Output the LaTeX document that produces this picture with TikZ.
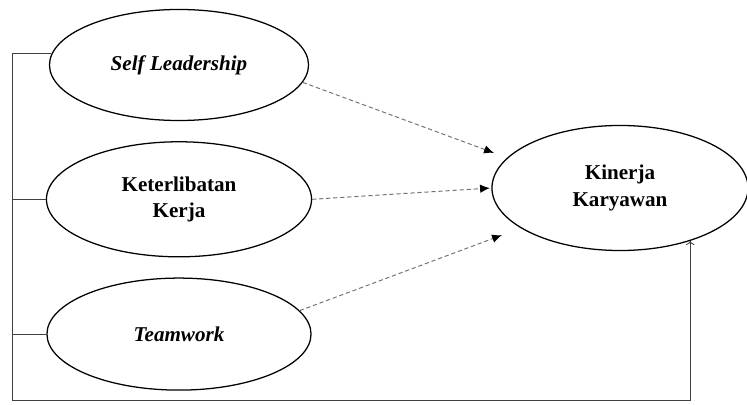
\documentclass[tikz,border=0pt]{standalone}
\usepackage{fontspec}
\setmainfont{Liberation Serif}
\usetikzlibrary{shapes.geometric,positioning,arrows.meta}

\begin{document}
\begin{tikzpicture}
    [x=0.025cm, y=-0.025cm, node distance=0.5cm,
    var/.style={ellipse, draw, line width=0.9pt, inner sep=0pt,
      minimum width=6.55cm, minimum height=2.8cm, align=center,
      font=\fontsize{15}{19}\selectfont\bfseries},
    path/.style={densely dashed, black!55, line width=0.7pt,
      -{Latex[black,length=7pt,width=6pt]}},
    link/.style={line width=0.6pt, black!75}]
  \useasboundingbox (0,0) rectangle (747,405);

  \node [var, minimum width=6.475cm, minimum height=2.775cm] (sl) at (179,65) {\textit{Self Leadership}};
  \node [var, minimum width=6.625cm, minimum height=2.875cm] (ke) [below=of sl] {Keterlibatan\\Kerja};
  \node [var, minimum width=6.6cm] (tw) [below=of ke] {\textit{Teamwork}};
  \node [var, minimum width=6.4cm, minimum height=3.125cm] (kk) at (620,188) {Kinerja\\Karyawan};
  \coordinate (corner) at (12,400);

  \draw [link] (sl.175) -| (corner);
  \draw [link] (ke.west) -- (ke.west -| corner);
  \draw [link] (tw.west) -- (tw.west -| corner);
  \draw [link, ->] (corner) -| (kk.-37);

  \draw [path, shorten >=0.35cm] (sl.-8) -- (kk.165);
  \draw [path, shorten >=1pt] (ke.east) -- (kk.west);
  \draw [path, shorten >=0.5cm] (tw.11) -- (kk.-158);
\end{tikzpicture}
\end{document}
